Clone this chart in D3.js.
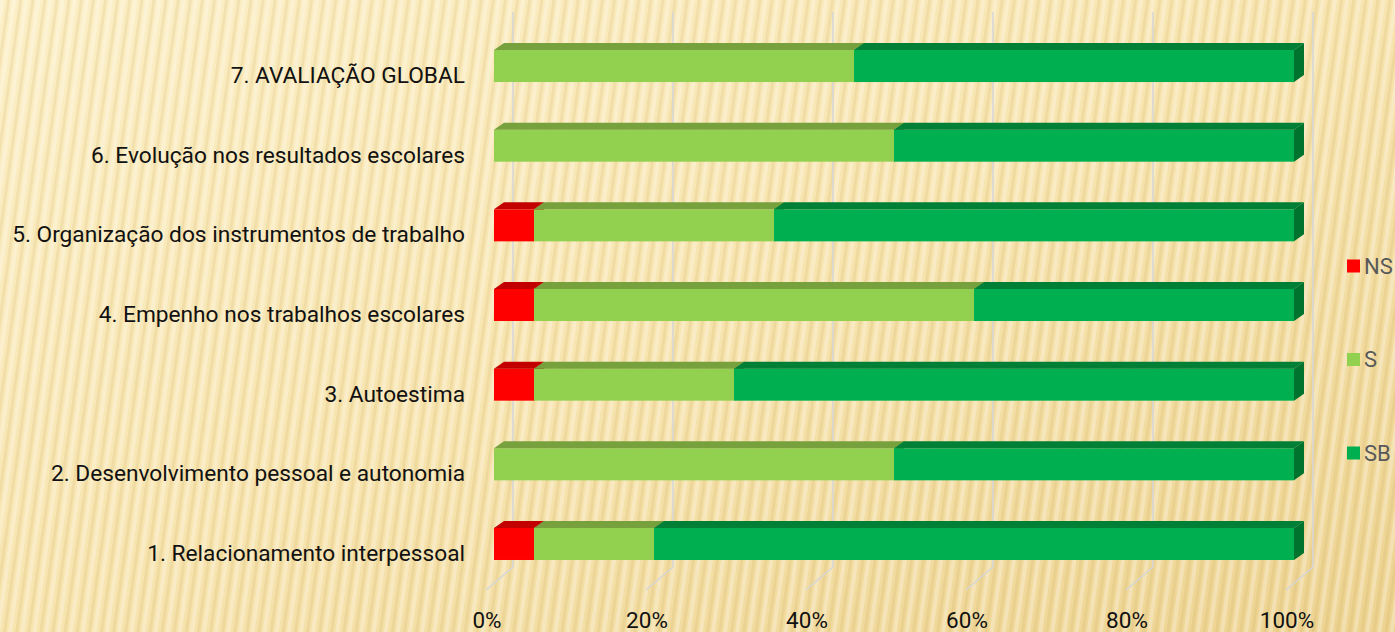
<!DOCTYPE html>
<html>
<head>
<meta charset="utf-8">
<script src="https://cdn.jsdelivr.net/npm/d3@7"></script>
<style>
html,body{margin:0;padding:0;background:#f7e4ae;}
svg{display:block;}
</style>
</head>
<body>
<svg id="chart" width="1395" height="632"></svg>
<script>
const categories = [
  "1. Relacionamento interpessoal",
  "2. Desenvolvimento pessoal e autonomia",
  "3. Autoestima",
  "4. Empenho nos trabalhos escolares",
  "5. Organização dos instrumentos de trabalho",
  "6. Evolução nos resultados escolares",
  "7. AVALIAÇÃO GLOBAL"
];
const seriesNames = ["NS", "S", "SB"];
const valuesNS = [5, 0, 5, 5, 5, 0, 0];
const valuesS  = [15, 50, 25, 55, 30, 50, 45];
const valuesSB = [80, 50, 70, 40, 65, 50, 55];
const tickValues = [0, 0.2, 0.4, 0.6, 0.8, 1.0];
const tickLabels = ["0%", "20%", "40%", "60%", "80%", "100%"];

const frontColors = {NS: "#ff0000", S: "#92d050", SB: "#00b050"};
const topColors   = {NS: "#c20000", S: "#76a13d", SB: "#007f36"};
const sideColors  = {NS: "#b00000", S: "#6c9638", SB: "#00732f"};

const svg = d3.select("#chart");
const W = 1395, H = 632;

// background
const defs = svg.append("defs");
const bg = defs.append("linearGradient").attr("id", "bgGrad")
  .attr("x1", "0").attr("y1", "0").attr("x2", "1").attr("y2", "1");
bg.append("stop").attr("offset", "0").attr("stop-color", "#fcefc6");
bg.append("stop").attr("offset", "0.5").attr("stop-color", "#f7e4af");
bg.append("stop").attr("offset", "1").attr("stop-color", "#edd391");
const pat = defs.append("pattern").attr("id", "stripes")
  .attr("patternUnits", "userSpaceOnUse").attr("width", 12).attr("height", 40)
  .attr("patternTransform", "rotate(8)");
pat.append("rect").attr("x", 0).attr("y", 0).attr("width", 4).attr("height", 40)
  .attr("fill", "#ffffff").attr("opacity", 0.28);
pat.append("rect").attr("x", 7).attr("y", 0).attr("width", 3).attr("height", 40)
  .attr("fill", "#c29c45").attr("opacity", 0.14);
svg.append("rect").attr("width", W).attr("height", H).attr("fill", "url(#bgGrad)");
svg.append("rect").attr("width", W).attr("height", H).attr("fill", "url(#stripes)");

// scales
const x = d3.scaleLinear().domain([0, 1]).range([494, 1294]);
const y = d3.scaleBand().domain(categories.slice().reverse())
  .range([26.2, 583.8]).paddingInner(0.598).paddingOuter(0.299);
const bw = y.bandwidth();
const dX = 10, dY = -7;           // bar depth
const wallDX = 19, wallTop = 12, wallBottom = 567;
const floorDX = -8, floorY = 590;

// gridlines (back wall + floor)
const grid = svg.append("g");
tickValues.forEach(v => {
  const bx = x(v) + wallDX;
  grid.append("path")
    .attr("d", `M${bx},${wallTop} L${bx},${wallBottom} L${x(v) + floorDX},${floorY}`)
    .attr("fill", "none").attr("stroke", "#d6d6d6").attr("stroke-width", 1.6);
});

// data table & stack
const table = categories.map((c, i) => ({
  cat: c, NS: valuesNS[i] / 100, S: valuesS[i] / 100, SB: valuesSB[i] / 100
}));
const stack = d3.stack().keys(seriesNames)(table);

const barsG = svg.append("g");
categories.forEach((c, ci) => {
  const y0 = y(c);
  seriesNames.forEach((k, si) => {
    const seg = stack[si][ci];
    const x0 = x(seg[0]), x1 = x(seg[1]);
    if (x1 - x0 < 0.5) return;
    const g = barsG.append("g");
    g.append("rect").attr("x", x0).attr("y", y0).attr("width", x1 - x0).attr("height", bw)
      .attr("fill", frontColors[k]);
    g.append("path")
      .attr("d", `M${x0},${y0} L${x1},${y0} L${x1 + dX},${y0 + dY} L${x0 + dX},${y0 + dY} Z`)
      .attr("fill", topColors[k]);
    g.append("path")
      .attr("d", `M${x1},${y0} L${x1 + dX},${y0 + dY} L${x1 + dX},${y0 + bw + dY} L${x1},${y0 + bw} Z`)
      .attr("fill", sideColors[k]);
  });
});

// category labels
const font = "Roboto, 'Open Sans', sans-serif";
svg.append("g").selectAll("text").data(categories).join("text")
  .attr("x", 465).attr("y", d => y(d) + bw / 2 + 17)
  .attr("text-anchor", "end")
  .attr("font-family", font).attr("font-size", 22.7).attr("fill", "#111")
  .text(d => d);

// x tick labels
svg.append("g").selectAll("text").data(tickValues).join("text")
  .attr("x", d => x(d) + floorDX + 1).attr("y", 628)
  .attr("text-anchor", "middle")
  .attr("font-family", font).attr("font-size", 22.5).attr("fill", "#111")
  .text((d, i) => tickLabels[i]);

// legend
const legendY = d3.scalePoint().domain(seriesNames).range([266, 453]);
const leg = svg.append("g");
seriesNames.forEach(k => {
  leg.append("rect").attr("x", 1347).attr("y", legendY(k) - 6.5).attr("width", 13).attr("height", 13)
    .attr("fill", frontColors[k]);
  leg.append("text").attr("x", 1364).attr("y", legendY(k) + 7.5)
    .attr("font-family", font).attr("font-size", 22).attr("fill", "#595959").text(k);
});
</script>
</body>
</html>
